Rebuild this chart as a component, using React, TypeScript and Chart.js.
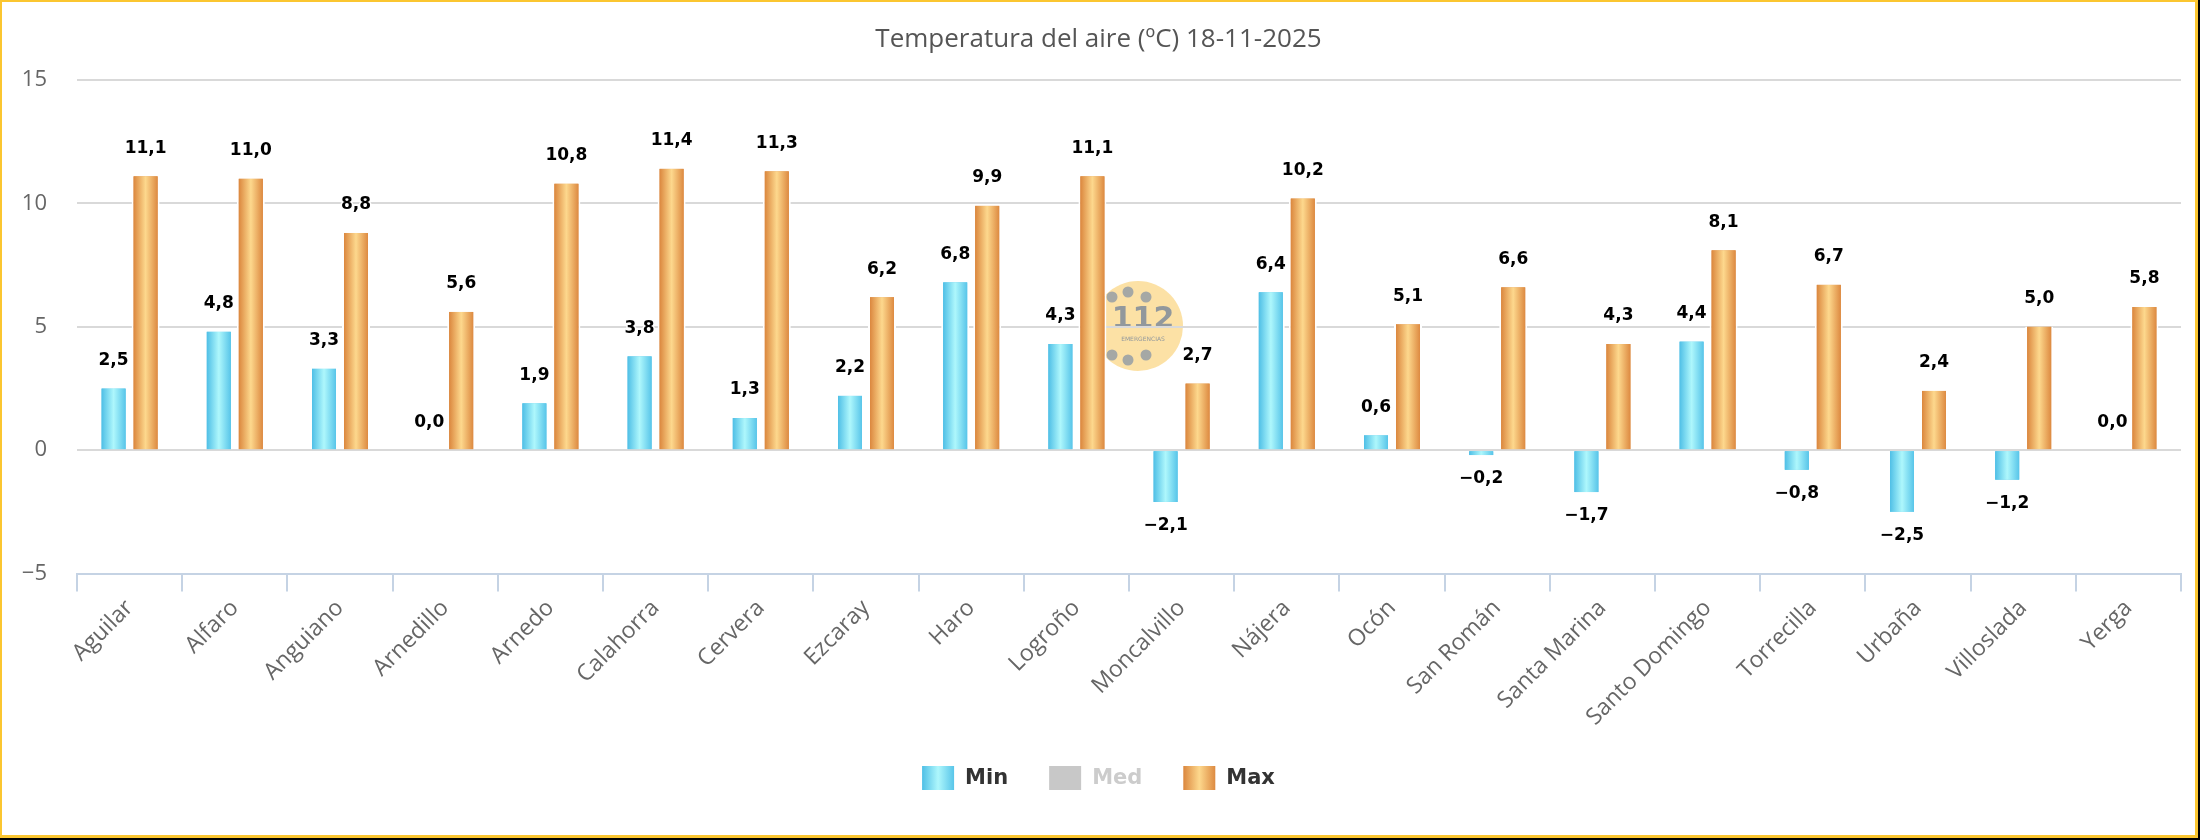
import React, { useEffect, useRef } from 'react';
import { Chart, registerables } from 'chart.js';

Chart.register(...registerables);

// Stations of the network and the day's air temperatures (ºC)
const stations = [
  'Aguilar', 'Alfaro', 'Anguiano', 'Arnedillo', 'Arnedo', 'Calahorra', 'Cervera',
  'Ezcaray', 'Haro', 'Logroño', 'Moncalvillo', 'Nájera', 'Ocón', 'San Román',
  'Santa Marina', 'Santo Domingo', 'Torrecilla', 'Urbaña', 'Villoslada', 'Yerga',
];
const minTemps = [2.5, 4.8, 3.3, 0.0, 1.9, 3.8, 1.3, 2.2, 6.8, 4.3, -2.1, 6.4, 0.6, -0.2, -1.7, 4.4, -0.8, -2.5, -1.2, 0.0];
const medTemps: (number | null)[] = [];
const maxTemps = [11.1, 11.0, 8.8, 5.6, 10.8, 11.4, 11.3, 6.2, 9.9, 11.1, 2.7, 10.2, 5.1, 6.6, 4.3, 8.1, 6.7, 2.4, 5.0, 5.8];
const yTicks = [-5, 0, 5, 10, 15];
const seriesNames = ['Min', 'Med', 'Max'];
const titleText = 'Temperatura del aire (ºC) 18-11-2025';

const CANVAS_W = 2193;
const CANVAS_H = 833;

// horizontal "cylinder" shading for each series: [left edge, highlight, right edge]
const shades: Record<string, string[]> = {
  Min: ['#4fbfe6', '#aef7fc', '#58c5e9'],
  Med: ['#c8c8c8', '#c8c8c8', '#c8c8c8'],
  Max: ['#db873e', '#fdd88d', '#dd8a41'],
};
const BAR_EDGE = 2;

const fmtValue = (v: number) => (v < 0 ? '\u2212' : '') + Math.abs(v).toFixed(1).replace('.', ',');
const fmtTick = (v: number) => (v < 0 ? '\u2212' + Math.abs(v) : String(v));

function shadeFill(ctx: CanvasRenderingContext2D, name: string, left: number, width: number) {
  const [a, b, c] = shades[name];
  const g = ctx.createLinearGradient(left, 0, left + width, 0);
  g.addColorStop(0, a);
  g.addColorStop(0.5, b);
  g.addColorStop(1, c);
  return g;
}

const decorPlugin = {
  id: 'decor',
  beforeDraw(chart: any) {
    // faint "112" emblem behind the plot
    const ctx: CanvasRenderingContext2D = chart.ctx;
    ctx.save();
    ctx.fillStyle = 'rgba(250, 205, 105, 0.6)';
    ctx.beginPath();
    ctx.arc(1136, 324, 45, 0, Math.PI * 2);
    ctx.fill();
    ctx.fillStyle = 'rgba(135, 148, 165, 0.75)';
    const dots = [[1110, 295], [1126, 290], [1144, 295], [1110, 353], [1126, 358], [1144, 353]];
    dots.forEach(([x, y]) => {
      ctx.beginPath();
      ctx.arc(x, y, 5.5, 0, Math.PI * 2);
      ctx.fill();
    });
    ctx.fillStyle = 'rgba(120, 135, 155, 0.8)';
    ctx.textAlign = 'center';
    ctx.textBaseline = 'middle';
    ctx.font = 'bold 30px "DejaVu Sans"';
    ctx.fillText('112', 1141, 318);
    ctx.font = '6px "DejaVu Sans"';
    ctx.fillText('EMERGENCIAS', 1141, 337);
    ctx.restore();
  },
  afterDatasetsDraw(chart: any) {
    const ctx: CanvasRenderingContext2D = chart.ctx;
    ctx.save();
    // shaded bar faces
    chart.data.datasets.forEach((ds: any, di: number) => {
      if (!chart.isDatasetVisible(di)) return;
      const meta = chart.getDatasetMeta(di);
      meta.data.forEach((el: any) => {
        const { x, y, base, width } = el.getProps(['x', 'y', 'base', 'width'], true);
        const h = Math.abs(base - y);
        if (h < 0.5) return;
        const left = x - width / 2 + BAR_EDGE;
        const w = width - BAR_EDGE * 2;
        ctx.fillStyle = shadeFill(ctx, ds.label, left, w);
        ctx.fillRect(left, Math.min(y, base), w, h);
      });
    });
    // value labels
    ctx.font = 'bold 17px "DejaVu Sans"';
    ctx.textAlign = 'center';
    ctx.textBaseline = 'middle';
    ctx.lineJoin = 'round';
    ctx.lineWidth = 3;
    ctx.strokeStyle = '#ffffff';
    ctx.fillStyle = '#000000';
    chart.data.datasets.forEach((ds: any, di: number) => {
      if (!chart.isDatasetVisible(di)) return;
      const meta = chart.getDatasetMeta(di);
      meta.data.forEach((el: any, i: number) => {
        const v = ds.data[i];
        if (v === null || v === undefined) return;
        const { x, y } = el.getProps(['x', 'y'], true);
        const ty = v < 0 ? y + 24 : y - 28;
        const t = fmtValue(v);
        ctx.strokeText(t, x, ty);
        ctx.fillText(t, x, ty);
      });
    });
    ctx.restore();
  },
  afterDraw(chart: any) {
    const ctx: CanvasRenderingContext2D = chart.ctx;
    const cx = chart.width / 2;
    ctx.save();
    // title
    ctx.font = '26px "Open Sans"';
    ctx.fillStyle = '#555555';
    ctx.textAlign = 'center';
    ctx.textBaseline = 'middle';
    ctx.fillText(titleText, cx, 38);

    // legend
    ctx.font = 'bold 21px "DejaVu Sans"';
    ctx.textAlign = 'left';
    const box = 32, boxH = 24, gapText = 11, gapItem = 41;
    const widths = seriesNames.map((n) => box + gapText + ctx.measureText(n).width);
    const total = widths.reduce((a, b) => a + b, 0) + gapItem * (widths.length - 1);
    let lx = cx - total / 2;
    const ly = 776;
    seriesNames.forEach((n, i) => {
      const visible = chart.isDatasetVisible(i);
      ctx.fillStyle = visible ? shadeFill(ctx, n, lx, box) : '#c8c8c8';
      ctx.fillRect(lx, ly - boxH / 2, box, boxH);
      ctx.fillStyle = visible ? '#333333' : '#cccccc';
      ctx.fillText(n, lx + box + gapText, ly + 1);
      lx += widths[i] + gapItem;
    });
    ctx.restore();
  },
};

export default function App() {
  const ref = useRef<HTMLCanvasElement | null>(null);

  useEffect(() => {
    if (!ref.current) return;
    const barStyle = {
      borderColor: '#ffffff',
      borderWidth: { left: BAR_EDGE, right: BAR_EDGE, top: 0, bottom: 0 },
      borderSkipped: 'start',
    };
    const chart = new Chart(ref.current, {
      type: 'bar',
      data: {
        labels: stations,
        datasets: [
          { label: seriesNames[0], data: minTemps, backgroundColor: shades.Min[0], ...barStyle },
          { label: seriesNames[1], data: medTemps, backgroundColor: shades.Med[0], hidden: true, ...barStyle },
          { label: seriesNames[2], data: maxTemps, backgroundColor: shades.Max[0], ...barStyle },
        ],
      } as any,
      options: {
        responsive: false,
        animation: false,
        devicePixelRatio: 1,
        layout: { padding: { top: 78, right: 14, bottom: 0, left: 0 } },
        datasets: { bar: { categoryPercentage: 0.6084, barPercentage: 0.875 } },
        plugins: {
          legend: { display: false },
          title: { display: false },
          tooltip: { enabled: false },
        },
        scales: {
          x: {
            offset: true,
            grid: {
              offset: true,
              drawOnChartArea: false,
              drawTicks: true,
              tickLength: 18,
              color: '#c5d3e4',
              lineWidth: 2,
            },
            border: { display: true, color: '#c5d3e4', width: 2 },
            ticks: {
              autoSkip: false,
              minRotation: 45,
              maxRotation: 45,
              padding: 3,
              color: '#666666',
              font: { family: 'Open Sans', size: 23 },
            },
            afterFit: (s: any) => {
              s.height = 261.5;
            },
          },
          y: {
            min: yTicks[0],
            max: yTicks[yTicks.length - 1],
            afterBuildTicks: (s: any) => {
              s.ticks = yTicks.map((v) => ({ value: v }));
            },
            ticks: {
              padding: 30,
              color: '#666666',
              font: { family: 'Open Sans', size: 22 },
              callback: (v: any) => fmtTick(Number(v)),
            },
            grid: {
              drawTicks: false,
              lineWidth: 2,
              color: (c: any) => (c.tick && c.tick.value === yTicks[0] ? 'rgba(0,0,0,0)' : '#d9d9d9'),
            },
            border: { display: false },
            afterFit: (s: any) => {
              s.width = 75;
            },
          },
        },
      } as any,
      plugins: [decorPlugin],
    });
    return () => chart.destroy();
  }, []);

  return (
    <div style={{ position: 'fixed', left: 0, top: 0, width: 2200, height: 840, background: '#000' }}>
      <div
        style={{
          position: 'absolute',
          left: 0,
          top: 0,
          width: 2198,
          height: 838,
          boxSizing: 'border-box',
          borderStyle: 'solid',
          borderColor: '#fbc630',
          borderWidth: '2px 3px 3px 2px',
          background: '#fff',
        }}
      >
        <canvas ref={ref} width={CANVAS_W} height={CANVAS_H} style={{ display: 'block', width: CANVAS_W, height: CANVAS_H }} />
      </div>
    </div>
  );
}
